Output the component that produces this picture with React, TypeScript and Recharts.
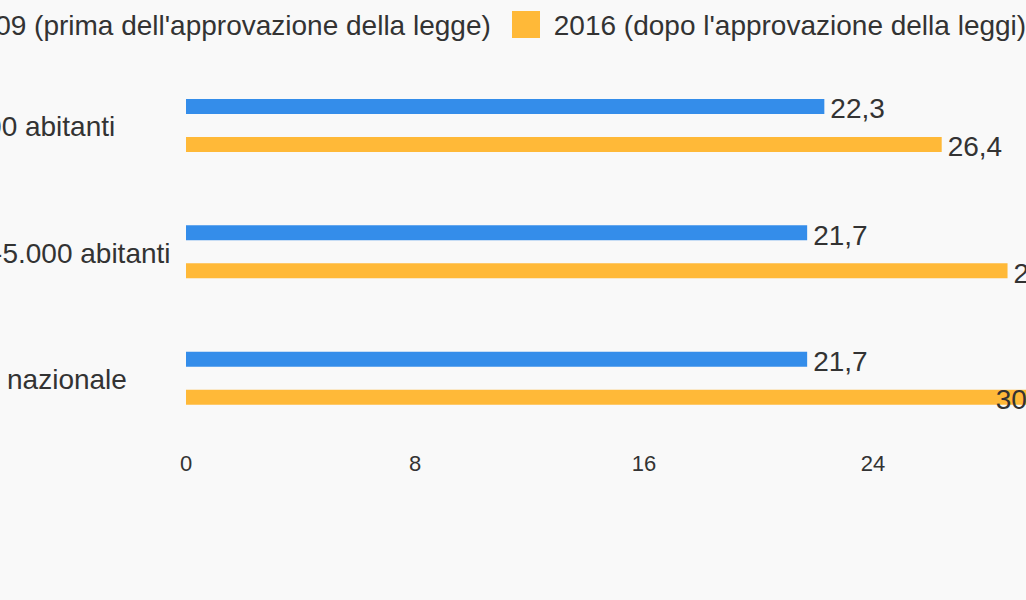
import React from "react";
import { BarChart, Bar, XAxis, YAxis, LabelList } from "recharts";

const categories = ["< 1.000 abitanti", "1.000-5.000 abitanti", "Media nazionale"];
const values2009 = [22.3, 21.7, 21.7];
const values2016 = [26.4, 28.7, 30.4];
const seriesNames = [
  "2009 (prima dell'approvazione della legge)",
  "2016 (dopo l'approvazione della leggi)",
];
const xTicks = [0, 8, 16, 24];

const COLORS = ["#348DEA", "#FFB938"];
const TEXT = "#333333";
const FONT = "'Liberation Sans', Arial, sans-serif";

// the chart is wider than the window and gets cropped on both sides
const SHIFT = 200;
const CHART_W = 1342;
const CHART_H = 600;
const MARGIN = { top: 62, right: 40, bottom: 0, left: 0 };
const Y_AXIS_W = 386;
const PLOT_RIGHT = CHART_W - MARGIN.right;

const data = categories.map((name, i) => ({
  name,
  v2009: values2009[i],
  v2016: values2016[i],
}));

const fmt = (v: number) => String(v).replace(".", ",");

function CategoryTick({ y, payload }: any) {
  return (
    <text
      x={SHIFT - 77}
      y={y}
      dy="0.4em"
      textAnchor="start"
      fontSize={28}
      fontFamily={FONT}
      fill={TEXT}
    >
      {payload.value}
    </text>
  );
}

// label sits right of the bar, or inside its end when it would leave the plot
function ValueLabel({ x, y, width, height, value }: any) {
  const text = fmt(value);
  const textW = text.length * 28 * 0.49;
  const end = x + width;
  let tx = end + 6;
  let anchor = "start";
  if (tx + textW > PLOT_RIGHT) {
    tx = end - 6;
    anchor = "end";
  }
  return (
    <text
      x={tx}
      y={y + height / 2}
      dy="0.42em"
      textAnchor={anchor}
      fontSize={28}
      fontFamily={FONT}
      fill={TEXT}
    >
      {text}
    </text>
  );
}

export default function App() {
  return (
    <div
      style={{
        position: "fixed",
        left: 0,
        top: 0,
        width: 1026,
        height: 600,
        overflow: "hidden",
        background: "#F9F9F9",
        fontFamily: FONT,
      }}
    >
      <div
        style={{
          position: "absolute",
          left: -78,
          top: 10,
          display: "flex",
          alignItems: "center",
          whiteSpace: "nowrap",
          fontSize: 28,
          lineHeight: "28px",
          color: TEXT,
        }}
      >
        {seriesNames.map((s, i) => (
          <div key={s} style={{ display: "flex", alignItems: "center", marginRight: 21 }}>
            <span style={{ width: 28, height: 27, background: COLORS[i], display: "inline-block" }} />
            <span style={{ marginLeft: 14, position: "relative", top: 2 }}>{s}</span>
          </div>
        ))}
      </div>
      <BarChart
        width={CHART_W}
        height={CHART_H}
        data={data}
        layout="vertical"
        margin={MARGIN}
        barSize={15}
        barGap={23}
        style={{ position: "absolute", left: -SHIFT, top: 0 }}
      >
        <XAxis
          type="number"
          domain={[0, 32]}
          ticks={xTicks}
          axisLine={false}
          tickLine={false}
          tickSize={0}
          tickMargin={14}
          height={159}
          tick={{ fontSize: 22, fill: TEXT, fontFamily: FONT }}
        />
        <YAxis
          type="category"
          dataKey="name"
          width={Y_AXIS_W}
          axisLine={false}
          tickLine={false}
          tick={<CategoryTick />}
        />
        <Bar dataKey="v2009" fill={COLORS[0]} isAnimationActive={false}>
          <LabelList dataKey="v2009" content={<ValueLabel />} />
        </Bar>
        <Bar dataKey="v2016" fill={COLORS[1]} isAnimationActive={false}>
          <LabelList dataKey="v2016" content={<ValueLabel />} />
        </Bar>
      </BarChart>
    </div>
  );
}
